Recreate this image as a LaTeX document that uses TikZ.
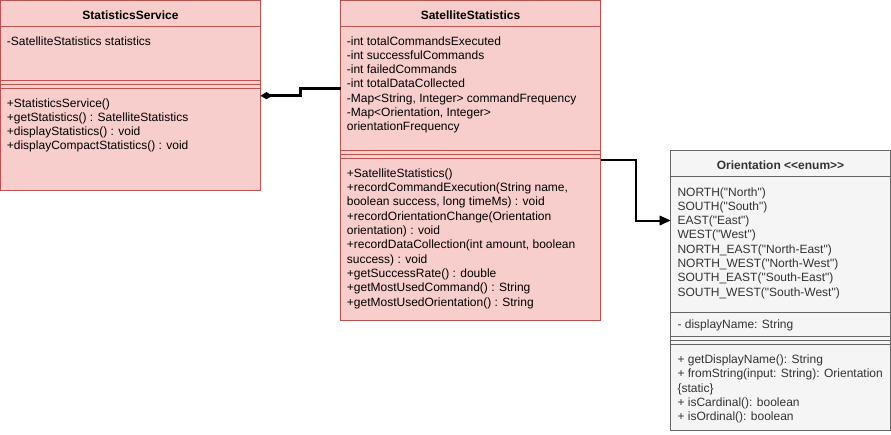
\documentclass[tikz,border=0pt]{standalone}
\usepackage{fontspec}
\newfontfamily\lsans{Liberation Sans}
\usetikzlibrary{arrows.meta}
\definecolor{pinkfill}{HTML}{F8CECC}
\definecolor{pinkline}{HTML}{B85450}
\definecolor{grayfill}{HTML}{F5F5F5}
\definecolor{grayline}{HTML}{666666}
\definecolor{graytext}{HTML}{333333}
\tikzset{
  pinkbox/.style={draw=pinkline, fill=pinkfill, line width=1pt, inner sep=0pt, outer sep=0pt, anchor=north west},
  graybox/.style={draw=grayline, fill=grayfill, line width=1pt, inner sep=0pt, outer sep=0pt, anchor=north west},
  pinkdiv/.style={draw=pinkline, line width=1pt},
  graydiv/.style={draw=grayline, line width=1pt},
  txt/.style={font=\lsans\fontsize{12}{14.4}\selectfont, inner sep=0pt, anchor=base west, text=black},
  gtxt/.style={txt, text=graytext},
  ttl/.style={font=\lsans\bfseries\fontsize{12}{14.4}\selectfont, inner sep=0pt, anchor=base, text=black},
  comp/.style={line width=3pt, -{Diamond[length=12pt,width=7pt,line width=0.5pt]}},
  assoc/.style={line width=2pt, -{Triangle[length=11pt,width=10pt,line width=0.5pt]}}
}
\begin{document}
\begin{tikzpicture}[x=1pt,y=-1pt]
\useasboundingbox (0,0) rectangle (891,434);
% StatisticsService
\node[pinkbox, minimum width=260pt, minimum height=190pt] (svc) at (0.5,0.5) {};
\draw[pinkdiv] (0.5,26.5) -- (260.5,26.5);
\draw[pinkdiv] (0.5,80.5) -- (260.5,80.5);
\draw[pinkdiv] (0.5,84.5) -- (260.5,84.5);
\draw[pinkdiv] (0.5,88.5) -- (260.5,88.5);
\node[ttl] (svct) at (130.5,19) {StatisticsService};
\node[txt] (svca) at (6.7,45) {-SatelliteStatistics statistics};
\foreach \t [count=\i] in {+StatisticsService(), +getStatistics() : SatelliteStatistics, +displayStatistics() : void, +displayCompactStatistics() : void}
  \node[txt] (svcm\i) at (6.7,{107+(\i-1)*14.3}) {\t};
% SatelliteStatistics
\node[pinkbox, minimum width=260pt, minimum height=320pt] (sat) at (340.5,0.5) {};
\draw[pinkdiv] (340.5,26.5) -- (600.5,26.5);
\draw[pinkdiv] (340.5,150.5) -- (600.5,150.5);
\draw[pinkdiv] (340.5,154.5) -- (600.5,154.5);
\draw[pinkdiv] (340.5,158.5) -- (600.5,158.5);
\node[ttl] (satt) at (470.5,19) {SatelliteStatistics};
\foreach \t [count=\i] in {-int totalCommandsExecuted, -int successfulCommands, -int failedCommands, -int totalDataCollected, {-Map<String, Integer> commandFrequency}, {-Map<Orientation, Integer>}, orientationFrequency}
  \node[txt] (sata\i) at (346.7,{45+(\i-1)*14.3}) {\t};
\foreach \t [count=\i] in {+SatelliteStatistics(), {+recordCommandExecution(String name,}, {boolean success, long timeMs) : void}, +recordOrientationChange(Orientation, {orientation) : void}, {+recordDataCollection(int amount, boolean}, success) : void, +getSuccessRate() : double, +getMostUsedCommand() : String, +getMostUsedOrientation() : String}
  \node[txt] (satm\i) at (346.7,{177.3+(\i-1)*14.3}) {\t};
% Orientation
\node[graybox, minimum width=220pt, minimum height=280pt] (ori) at (670.5,150.5) {};
\draw[graydiv] (670.5,176.5) -- (890.5,176.5);
\draw[graydiv] (670.5,312) -- (890.5,312);
\draw[graydiv] (670.5,336.7) -- (890.5,336.7);
\draw[graydiv] (670.5,340.5) -- (890.5,340.5);
\draw[graydiv] (670.5,344.5) -- (890.5,344.5);
\node[ttl, text=graytext] (orit) at (780.5,169) {Orientation <<enum>>};
\foreach \t [count=\i] in {NORTH("North"), SOUTH("South"), EAST("East"), WEST("West"), NORTH\_EAST("North-East"), NORTH\_WEST("North-West"), SOUTH\_EAST("South-East"), SOUTH\_WEST("South-West")}
  \node[gtxt] (oria\i) at (677.3,{196+(\i-1)*14.3}) {\t};
\node[gtxt] (orid) at (677.3,328.6) {- displayName: String};
\foreach \t [count=\i] in {+ getDisplayName(): String, + fromString(input: String): Orientation, \{static\}, + isCardinal(): boolean, + isOrdinal(): boolean}
  \node[gtxt] (orim\i) at (677.3,{363.6+(\i-1)*14.3}) {\t};
% connectors
\draw[comp] ([yshift=-88pt]sat.north west) -- ++(-40,0) |- ([yshift=-95.2pt]svc.north east);
\draw[assoc] ([yshift=-159.5pt]sat.north east) -- ++(35,0) |- ([yshift=-70pt]ori.north west);
\end{tikzpicture}
\end{document}
